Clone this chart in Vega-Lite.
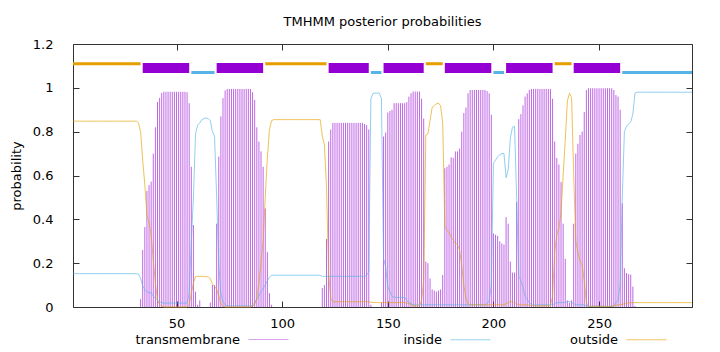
{
"$schema": "https://vega.github.io/schema/vega-lite/v6.json",
"width": 619, "height": 263,
"autosize": {"type": "none"},
"padding": {"left": 73, "top": 44, "right": 28, "bottom": 45},
"background": "white",
"title": {"text": "TMHMM posterior probabilities", "font": "DejaVu Sans", "fontSize": 13, "fontWeight": "normal", "color": "black", "offset": 9},
"config": {
  "font": "DejaVu Sans",
  "view": {"stroke": "#333", "strokeWidth": 1},
  "axis": {"labelFont": "DejaVu Sans", "labelFontSize": 13, "labelColor": "black", "titleFont": "DejaVu Sans", "titleFontSize": 13, "titleFontWeight": "normal", "titleColor": "black", "grid": false, "domain": false, "tickColor": "#333", "tickSize": -6},
  "legend": {"orient": "none", "legendY": 275, "direction": "horizontal", "title": null,
             "symbolType": "stroke", "symbolSize": 1600, "symbolStrokeWidth": 1, "symbolOpacity": 0.6,
             "labelFont": "DejaVu Sans", "labelFontSize": 13, "labelColor": "black",
             "labelAlign": "right", "labelOffset": -49, "columnPadding": 77}
},
"datasets": {
"segs": [
{"type":"outside","start":1,"end":33},{"type":"TM","start":34,"end":56},{"type":"inside","start":57,"end":68},{"type":"TM","start":69,"end":91},{"type":"outside","start":92,"end":121},{"type":"TM","start":122,"end":141},{"type":"inside","start":142,"end":147},{"type":"TM","start":148,"end":167},{"type":"outside","start":168,"end":176},{"type":"TM","start":177,"end":199},{"type":"inside","start":200,"end":205},{"type":"TM","start":206,"end":228},{"type":"outside","start":229,"end":237},{"type":"TM","start":238,"end":260},{"type":"inside","start":261,"end":294}
],
"prob": [
{"r":1,"tm":0,"inside":0.152,"outside":0.848},{"r":2,"tm":0,"inside":0.152,"outside":0.848},{"r":3,"tm":0,"inside":0.152,"outside":0.848},{"r":4,"tm":0,"inside":0.152,"outside":0.848},{"r":5,"tm":0,"inside":0.152,"outside":0.848},{"r":6,"tm":0,"inside":0.152,"outside":0.848},{"r":7,"tm":0,"inside":0.152,"outside":0.848},{"r":8,"tm":0,"inside":0.152,"outside":0.848},{"r":9,"tm":0,"inside":0.152,"outside":0.848},{"r":10,"tm":0,"inside":0.152,"outside":0.848},
{"r":11,"tm":0,"inside":0.152,"outside":0.848},{"r":12,"tm":0,"inside":0.152,"outside":0.848},{"r":13,"tm":0,"inside":0.152,"outside":0.848},{"r":14,"tm":0,"inside":0.152,"outside":0.848},{"r":15,"tm":0,"inside":0.152,"outside":0.848},{"r":16,"tm":0,"inside":0.152,"outside":0.848},{"r":17,"tm":0,"inside":0.152,"outside":0.848},{"r":18,"tm":0,"inside":0.152,"outside":0.848},{"r":19,"tm":0,"inside":0.152,"outside":0.848},{"r":20,"tm":0,"inside":0.152,"outside":0.848},
{"r":21,"tm":0,"inside":0.152,"outside":0.848},{"r":22,"tm":0,"inside":0.152,"outside":0.848},{"r":23,"tm":0,"inside":0.152,"outside":0.848},{"r":24,"tm":0,"inside":0.152,"outside":0.848},{"r":25,"tm":0,"inside":0.152,"outside":0.848},{"r":26,"tm":0,"inside":0.152,"outside":0.848},{"r":27,"tm":0,"inside":0.152,"outside":0.848},{"r":28,"tm":0,"inside":0.152,"outside":0.848},{"r":29,"tm":0,"inside":0.152,"outside":0.848},{"r":30,"tm":0,"inside":0.152,"outside":0.848},
{"r":31,"tm":0,"inside":0.152,"outside":0.848},{"r":32,"tm":0,"inside":0.15,"outside":0.84},{"r":33,"tm":0.036,"inside":0.13,"outside":0.8},{"r":34,"tm":0.26,"inside":0.095,"outside":0.67},{"r":35,"tm":0.365,"inside":0.08,"outside":0.557},{"r":36,"tm":0.53,"inside":0.07,"outside":0.42},{"r":37,"tm":0.556,"inside":0.065,"outside":0.383},{"r":38,"tm":0.572,"inside":0.065,"outside":0.33},{"r":39,"tm":0.7,"inside":0.05,"outside":0.215},{"r":40,"tm":0.82,"inside":0.04,"outside":0.11},
{"r":41,"tm":0.936,"inside":0.03,"outside":0.03},{"r":42,"tm":0.954,"inside":0.025,"outside":0.01},{"r":43,"tm":0.976,"inside":0.02,"outside":0.005},{"r":44,"tm":0.982,"inside":0.018,"outside":0},{"r":45,"tm":0.982,"inside":0.018,"outside":0},{"r":46,"tm":0.982,"inside":0.018,"outside":0},{"r":47,"tm":0.982,"inside":0.018,"outside":0},{"r":48,"tm":0.982,"inside":0.018,"outside":0},{"r":49,"tm":0.982,"inside":0.018,"outside":0},{"r":50,"tm":0.982,"inside":0.018,"outside":0},
{"r":51,"tm":0.982,"inside":0.018,"outside":0},{"r":52,"tm":0.982,"inside":0.018,"outside":0},{"r":53,"tm":0.982,"inside":0.018,"outside":0},{"r":54,"tm":0.982,"inside":0.018,"outside":0},{"r":55,"tm":0.98,"inside":0.018,"outside":0},{"r":56,"tm":0.93,"inside":0.06,"outside":0.01},{"r":57,"tm":0.64,"inside":0.3,"outside":0.06},{"r":58,"tm":0.374,"inside":0.5,"outside":0.11},{"r":59,"tm":0.07,"inside":0.79,"outside":0.138},{"r":60,"tm":0.01,"inside":0.83,"outside":0.14},
{"r":61,"tm":0.03,"inside":0.84,"outside":0.14},{"r":62,"tm":0,"inside":0.855,"outside":0.14},{"r":63,"tm":0,"inside":0.86,"outside":0.14},{"r":64,"tm":0,"inside":0.862,"outside":0.138},{"r":65,"tm":0,"inside":0.86,"outside":0.138},{"r":66,"tm":0.02,"inside":0.85,"outside":0.13},{"r":67,"tm":0.1,"inside":0.8,"outside":0.105},{"r":68,"tm":0.1,"inside":0.78,"outside":0.095},{"r":69,"tm":0.38,"inside":0.5,"outside":0.08},{"r":70,"tm":0.686,"inside":0.2,"outside":0.05},
{"r":71,"tm":0.87,"inside":0.06,"outside":0.015},{"r":72,"tm":0.953,"inside":0.025,"outside":0.005},{"r":73,"tm":0.988,"inside":0.01,"outside":0},{"r":74,"tm":0.995,"inside":0.005,"outside":0},{"r":75,"tm":0.995,"inside":0.005,"outside":0},{"r":76,"tm":0.995,"inside":0.005,"outside":0},{"r":77,"tm":0.995,"inside":0.005,"outside":0},{"r":78,"tm":0.995,"inside":0.005,"outside":0},{"r":79,"tm":0.995,"inside":0.005,"outside":0},{"r":80,"tm":0.995,"inside":0.005,"outside":0},
{"r":81,"tm":0.995,"inside":0.005,"outside":0},{"r":82,"tm":0.995,"inside":0.005,"outside":0},{"r":83,"tm":0.995,"inside":0.005,"outside":0},{"r":84,"tm":0.995,"inside":0.005,"outside":0},{"r":85,"tm":0.995,"inside":0.005,"outside":0},{"r":86,"tm":0.98,"inside":0.008,"outside":0.005},{"r":87,"tm":0.945,"inside":0.02,"outside":0.01},{"r":88,"tm":0.82,"inside":0.035,"outside":0.04},{"r":89,"tm":0.755,"inside":0.05,"outside":0.11},{"r":90,"tm":0.71,"inside":0.07,"outside":0.2},
{"r":91,"tm":0.64,"inside":0.085,"outside":0.3},{"r":92,"tm":0.45,"inside":0.1,"outside":0.5},{"r":93,"tm":0.25,"inside":0.12,"outside":0.68},{"r":94,"tm":0.063,"inside":0.135,"outside":0.81},{"r":95,"tm":0.01,"inside":0.145,"outside":0.85},{"r":96,"tm":0,"inside":0.145,"outside":0.855},{"r":97,"tm":0,"inside":0.145,"outside":0.855},{"r":98,"tm":0,"inside":0.145,"outside":0.855},{"r":99,"tm":0,"inside":0.145,"outside":0.855},{"r":100,"tm":0,"inside":0.145,"outside":0.855},
{"r":101,"tm":0,"inside":0.145,"outside":0.855},{"r":102,"tm":0,"inside":0.145,"outside":0.855},{"r":103,"tm":0,"inside":0.145,"outside":0.855},{"r":104,"tm":0,"inside":0.145,"outside":0.855},{"r":105,"tm":0,"inside":0.145,"outside":0.855},{"r":106,"tm":0,"inside":0.145,"outside":0.855},{"r":107,"tm":0,"inside":0.145,"outside":0.855},{"r":108,"tm":0,"inside":0.145,"outside":0.855},{"r":109,"tm":0,"inside":0.145,"outside":0.855},{"r":110,"tm":0,"inside":0.145,"outside":0.855},
{"r":111,"tm":0,"inside":0.145,"outside":0.855},{"r":112,"tm":0,"inside":0.145,"outside":0.855},{"r":113,"tm":0,"inside":0.145,"outside":0.855},{"r":114,"tm":0,"inside":0.145,"outside":0.855},{"r":115,"tm":0,"inside":0.145,"outside":0.855},{"r":116,"tm":0,"inside":0.145,"outside":0.855},{"r":117,"tm":0,"inside":0.145,"outside":0.855},{"r":118,"tm":0,"inside":0.145,"outside":0.855},{"r":119,"tm":0.087,"inside":0.14,"outside":0.78},{"r":120,"tm":0.1,"inside":0.14,"outside":0.74},
{"r":121,"tm":0.31,"inside":0.14,"outside":0.55},{"r":122,"tm":0.755,"inside":0.14,"outside":0.15},{"r":123,"tm":0.81,"inside":0.14,"outside":0.04},{"r":124,"tm":0.84,"inside":0.14,"outside":0.024},{"r":125,"tm":0.84,"inside":0.14,"outside":0.024},{"r":126,"tm":0.84,"inside":0.14,"outside":0.024},{"r":127,"tm":0.84,"inside":0.14,"outside":0.024},{"r":128,"tm":0.84,"inside":0.14,"outside":0.024},{"r":129,"tm":0.84,"inside":0.14,"outside":0.024},{"r":130,"tm":0.84,"inside":0.14,"outside":0.024},
{"r":131,"tm":0.84,"inside":0.14,"outside":0.024},{"r":132,"tm":0.84,"inside":0.14,"outside":0.024},{"r":133,"tm":0.84,"inside":0.14,"outside":0.024},{"r":134,"tm":0.84,"inside":0.14,"outside":0.024},{"r":135,"tm":0.84,"inside":0.14,"outside":0.024},{"r":136,"tm":0.84,"inside":0.14,"outside":0.024},{"r":137,"tm":0.84,"inside":0.14,"outside":0.024},{"r":138,"tm":0.84,"inside":0.14,"outside":0.024},{"r":139,"tm":0.835,"inside":0.14,"outside":0.024},{"r":140,"tm":0.83,"inside":0.145,"outside":0.024},
{"r":141,"tm":0.81,"inside":0.16,"outside":0.024},{"r":142,"tm":0.01,"inside":0.95,"outside":0.022},{"r":143,"tm":0,"inside":0.975,"outside":0.02},{"r":144,"tm":0,"inside":0.976,"outside":0.02},{"r":145,"tm":0,"inside":0.976,"outside":0.02},{"r":146,"tm":0,"inside":0.976,"outside":0.02},{"r":147,"tm":0.02,"inside":0.95,"outside":0.02},{"r":148,"tm":0.778,"inside":0.22,"outside":0.02},{"r":149,"tm":0.796,"inside":0.184,"outside":0.02},{"r":150,"tm":0.887,"inside":0.093,"outside":0.02},
{"r":151,"tm":0.894,"inside":0.07,"outside":0.02},{"r":152,"tm":0.9,"inside":0.05,"outside":0.02},{"r":153,"tm":0.93,"inside":0.044,"outside":0.02},{"r":154,"tm":0.93,"inside":0.044,"outside":0.02},{"r":155,"tm":0.93,"inside":0.044,"outside":0.02},{"r":156,"tm":0.93,"inside":0.044,"outside":0.02},{"r":157,"tm":0.93,"inside":0.044,"outside":0.02},{"r":158,"tm":0.93,"inside":0.044,"outside":0.02},{"r":159,"tm":0.935,"inside":0.03,"outside":0.018},{"r":160,"tm":0.96,"inside":0.02,"outside":0.015},
{"r":161,"tm":0.975,"inside":0.015,"outside":0.01},{"r":162,"tm":0.983,"inside":0.01,"outside":0.005},{"r":163,"tm":0.983,"inside":0.01,"outside":0.005},{"r":164,"tm":0.983,"inside":0.01,"outside":0.005},{"r":165,"tm":0.983,"inside":0.01,"outside":0.005},{"r":166,"tm":0.95,"inside":0.01,"outside":0.03},{"r":167,"tm":0.86,"inside":0.01,"outside":0.12},{"r":168,"tm":0.207,"inside":0.01,"outside":0.785},{"r":169,"tm":0.2,"inside":0.01,"outside":0.79},{"r":170,"tm":0.13,"inside":0.01,"outside":0.85},
{"r":171,"tm":0.08,"inside":0.01,"outside":0.91},{"r":172,"tm":0.075,"inside":0.01,"outside":0.918},{"r":173,"tm":0.07,"inside":0.01,"outside":0.927},{"r":174,"tm":0.075,"inside":0.01,"outside":0.93},{"r":175,"tm":0.08,"inside":0.01,"outside":0.918},{"r":176,"tm":0.146,"inside":0.01,"outside":0.84},{"r":177,"tm":0.633,"inside":0.01,"outside":0.37},{"r":178,"tm":0.64,"inside":0.01,"outside":0.35},{"r":179,"tm":0.65,"inside":0.01,"outside":0.34},{"r":180,"tm":0.683,"inside":0.01,"outside":0.32},
{"r":181,"tm":0.68,"inside":0.01,"outside":0.306},{"r":182,"tm":0.71,"inside":0.01,"outside":0.29},{"r":183,"tm":0.71,"inside":0.01,"outside":0.285},{"r":184,"tm":0.723,"inside":0.01,"outside":0.26},{"r":185,"tm":0.8,"inside":0.01,"outside":0.19},{"r":186,"tm":0.885,"inside":0.01,"outside":0.1},{"r":187,"tm":0.91,"inside":0.01,"outside":0.04},{"r":188,"tm":0.975,"inside":0.01,"outside":0.015},{"r":189,"tm":0.99,"inside":0.01,"outside":0.01},{"r":190,"tm":0.99,"inside":0.01,"outside":0.01},
{"r":191,"tm":0.99,"inside":0.01,"outside":0.01},{"r":192,"tm":0.99,"inside":0.01,"outside":0.01},{"r":193,"tm":0.99,"inside":0.01,"outside":0.01},{"r":194,"tm":0.99,"inside":0.01,"outside":0.01},{"r":195,"tm":0.99,"inside":0.01,"outside":0.01},{"r":196,"tm":0.99,"inside":0.01,"outside":0.01},{"r":197,"tm":0.985,"inside":0.015,"outside":0.01},{"r":198,"tm":0.975,"inside":0.03,"outside":0.01},{"r":199,"tm":0.877,"inside":0.1,"outside":0.01},{"r":200,"tm":0.336,"inside":0.655,"outside":0.01},
{"r":201,"tm":0.33,"inside":0.67,"outside":0.01},{"r":202,"tm":0.325,"inside":0.685,"outside":0.01},{"r":203,"tm":0.3,"inside":0.695,"outside":0.01},{"r":204,"tm":0.29,"inside":0.7,"outside":0.01},{"r":205,"tm":0.285,"inside":0.7,"outside":0.01},{"r":206,"tm":0.41,"inside":0.59,"outside":0.015},{"r":207,"tm":0.38,"inside":0.625,"outside":0.02},{"r":208,"tm":0.207,"inside":0.77,"outside":0.025},{"r":209,"tm":0.157,"inside":0.82,"outside":0.025},{"r":210,"tm":0.157,"inside":0.825,"outside":0.02},
{"r":211,"tm":0.48,"inside":0.5,"outside":0.015},{"r":212,"tm":0.857,"inside":0.14,"outside":0.01},{"r":213,"tm":0.88,"inside":0.12,"outside":0.01},{"r":214,"tm":0.92,"inside":0.09,"outside":0.01},{"r":215,"tm":0.96,"inside":0.05,"outside":0.01},{"r":216,"tm":0.975,"inside":0.035,"outside":0.01},{"r":217,"tm":0.99,"inside":0.02,"outside":0.01},{"r":218,"tm":0.995,"inside":0.01,"outside":0.005},{"r":219,"tm":0.995,"inside":0.01,"outside":0.005},{"r":220,"tm":0.995,"inside":0.01,"outside":0.005},
{"r":221,"tm":0.995,"inside":0.01,"outside":0.005},{"r":222,"tm":0.995,"inside":0.01,"outside":0.005},{"r":223,"tm":0.995,"inside":0.01,"outside":0.005},{"r":224,"tm":0.995,"inside":0.01,"outside":0.005},{"r":225,"tm":0.995,"inside":0.01,"outside":0.005},{"r":226,"tm":0.995,"inside":0.01,"outside":0.005},{"r":227,"tm":0.995,"inside":0.01,"outside":0.005},{"r":228,"tm":0.95,"inside":0.01,"outside":0.05},{"r":229,"tm":0.755,"inside":0.015,"outside":0.25},{"r":230,"tm":0.68,"inside":0.02,"outside":0.33},
{"r":231,"tm":0.65,"inside":0.02,"outside":0.36},{"r":232,"tm":0.57,"inside":0.02,"outside":0.43},{"r":233,"tm":0.38,"inside":0.02,"outside":0.6},{"r":234,"tm":0.22,"inside":0.02,"outside":0.76},{"r":235,"tm":0.03,"inside":0.025,"outside":0.94},{"r":236,"tm":0.02,"inside":0.025,"outside":0.975},{"r":237,"tm":0.03,"inside":0.02,"outside":0.955},{"r":238,"tm":0.38,"inside":0.015,"outside":0.6},{"r":239,"tm":0.7,"inside":0.01,"outside":0.3},{"r":240,"tm":0.745,"inside":0.01,"outside":0.25},
{"r":241,"tm":0.785,"inside":0.01,"outside":0.21},{"r":242,"tm":0.8,"inside":0.01,"outside":0.19},{"r":243,"tm":0.89,"inside":0.01,"outside":0.12},{"r":244,"tm":0.99,"inside":0.005,"outside":0.02},{"r":245,"tm":0.998,"inside":0.003,"outside":0.003},{"r":246,"tm":0.998,"inside":0.003,"outside":0.003},{"r":247,"tm":0.998,"inside":0.003,"outside":0.003},{"r":248,"tm":0.998,"inside":0.003,"outside":0.003},{"r":249,"tm":0.998,"inside":0.003,"outside":0.003},{"r":250,"tm":0.998,"inside":0.003,"outside":0.003},
{"r":251,"tm":0.998,"inside":0.003,"outside":0.003},{"r":252,"tm":0.998,"inside":0.003,"outside":0.003},{"r":253,"tm":0.998,"inside":0.003,"outside":0.003},{"r":254,"tm":0.998,"inside":0.003,"outside":0.003},{"r":255,"tm":0.998,"inside":0.003,"outside":0.003},{"r":256,"tm":0.998,"inside":0.003,"outside":0.003},{"r":257,"tm":0.99,"inside":0.005,"outside":0.005},{"r":258,"tm":0.967,"inside":0.02,"outside":0.008},{"r":259,"tm":0.96,"inside":0.03,"outside":0.01},{"r":260,"tm":0.9,"inside":0.1,"outside":0.01},
{"r":261,"tm":0.473,"inside":0.5,"outside":0.012},{"r":262,"tm":0.177,"inside":0.8,"outside":0.015},{"r":263,"tm":0.155,"inside":0.825,"outside":0.018},{"r":264,"tm":0.15,"inside":0.835,"outside":0.018},{"r":265,"tm":0.148,"inside":0.845,"outside":0.02},{"r":266,"tm":0.093,"inside":0.88,"outside":0.02},{"r":267,"tm":0.005,"inside":0.975,"outside":0.02},{"r":268,"tm":0,"inside":0.98,"outside":0.02},{"r":269,"tm":0,"inside":0.98,"outside":0.02},{"r":270,"tm":0,"inside":0.98,"outside":0.02},
{"r":271,"tm":0,"inside":0.98,"outside":0.02},{"r":272,"tm":0,"inside":0.98,"outside":0.02},{"r":273,"tm":0,"inside":0.98,"outside":0.02},{"r":274,"tm":0,"inside":0.98,"outside":0.02},{"r":275,"tm":0,"inside":0.98,"outside":0.02},{"r":276,"tm":0,"inside":0.98,"outside":0.02},{"r":277,"tm":0,"inside":0.98,"outside":0.02},{"r":278,"tm":0,"inside":0.98,"outside":0.02},{"r":279,"tm":0,"inside":0.98,"outside":0.02},{"r":280,"tm":0,"inside":0.98,"outside":0.02},
{"r":281,"tm":0,"inside":0.98,"outside":0.02},{"r":282,"tm":0,"inside":0.98,"outside":0.02},{"r":283,"tm":0,"inside":0.98,"outside":0.02},{"r":284,"tm":0,"inside":0.98,"outside":0.02},{"r":285,"tm":0,"inside":0.98,"outside":0.02},{"r":286,"tm":0,"inside":0.98,"outside":0.02},{"r":287,"tm":0,"inside":0.98,"outside":0.02},{"r":288,"tm":0,"inside":0.98,"outside":0.02},{"r":289,"tm":0,"inside":0.98,"outside":0.02},{"r":290,"tm":0,"inside":0.98,"outside":0.02},
{"r":291,"tm":0,"inside":0.98,"outside":0.02},{"r":292,"tm":0,"inside":0.98,"outside":0.02},{"r":293,"tm":0,"inside":0.98,"outside":0.02},{"r":294,"tm":0,"inside":0.98,"outside":0.02}
]
},
"layer": [
  {
    "data": {"name": "prob"},
    "mark": {"type": "rule", "strokeWidth": 1, "opacity": 0.6},
    "encoding": {
      "x": {"field": "r", "type": "quantitative", "scale": {"domain": [1, 294], "nice": false, "zero": false},
            "axis": {"orient": "bottom", "values": [50, 100, 150, 200, 250], "title": null, "labelPadding": 16}},
      "y": {"field": "tm", "type": "quantitative", "scale": {"domain": [0, 1.2], "nice": false},
            "axis": {"orient": "left", "values": [0, 0.2, 0.4, 0.6, 0.8, 1, 1.2], "format": "~g", "title": "probability", "labelPadding": 26, "titlePadding": 9}},
      "y2": {"datum": 0},
      "color": {"datum": "transmembrane", "type": "nominal",
                "scale": {"domain": ["transmembrane"], "range": ["#9400d3"]},
                "legend": {"title": null, "legendX": 175,
                           "encode": {"symbols": {"update": {"stroke": {"value": "#9400d3"}, "strokeOpacity": {"value": 0.6}}}}}}
    }
  },
  {
    "data": {"name": "prob"},
    "transform": [{"fold": ["inside", "outside"], "as": ["series", "p"]}],
    "mark": {"type": "line", "strokeWidth": 1, "opacity": 0.65},
    "encoding": {
      "x": {"field": "r", "type": "quantitative", "axis": null},
      "y": {"field": "p", "type": "quantitative", "axis": null},
      "color": {"field": "series", "type": "nominal",
                "scale": {"domain": ["inside", "outside"], "range": ["#56b4e9", "#e69f00"]},
                "legend": {"title": null, "legendX": 377}}
    }
  },
  {
    "data": {"name": "segs"},
    "transform": [{"filter": "datum.type === 'outside'"}],
    "mark": {"type": "rule", "color": "#e69f00", "strokeWidth": 3},
    "encoding": {
      "x": {"field": "start", "type": "quantitative", "axis": {"orient": "top", "values": [50, 100, 150, 200, 250], "labels": false, "title": null}},
      "x2": {"field": "end"},
      "y": {"datum": 1.11, "type": "quantitative", "axis": {"orient": "right", "values": [0, 0.2, 0.4, 0.6, 0.8, 1, 1.2], "labels": false, "title": null}}
    }
  },
  {
    "data": {"name": "segs"},
    "transform": [{"filter": "datum.type === 'TM'"}],
    "mark": {"type": "rule", "color": "#9400d3", "strokeWidth": 10},
    "encoding": {
      "x": {"field": "start", "type": "quantitative", "axis": null},
      "x2": {"field": "end"},
      "y": {"datum": 1.09, "type": "quantitative", "axis": null}
    }
  },
  {
    "data": {"name": "segs"},
    "transform": [{"filter": "datum.type === 'inside'"}],
    "mark": {"type": "rule", "color": "#56b4e9", "strokeWidth": 3},
    "encoding": {
      "x": {"field": "start", "type": "quantitative", "axis": null},
      "x2": {"field": "end"},
      "y": {"datum": 1.07, "type": "quantitative", "axis": null}
    }
  }
],
"resolve": {"axis": {"x": "independent", "y": "independent"}, "scale": {"color": "independent"}, "legend": {"color": "independent"}}
}
